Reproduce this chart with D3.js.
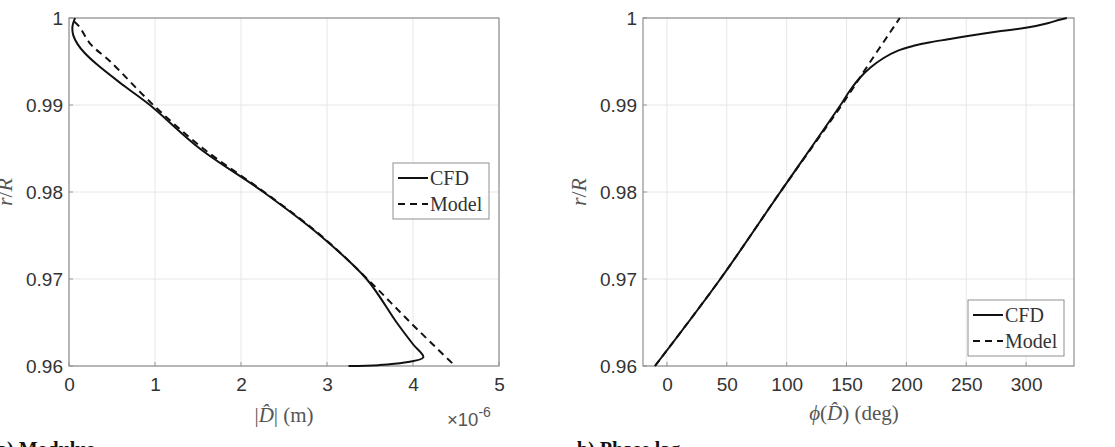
<!DOCTYPE html>
<html>
<head>
<meta charset="utf-8">
<script src="https://cdn.jsdelivr.net/npm/d3@7"></script>
<style>
  body { margin: 0; background: #fff; }
  svg { display: block; }
  .tick text { font-family: "Liberation Sans", Arial, sans-serif; font-size: 19px; fill: #333; }
  .serif { font-family: "Liberation Serif", "DejaVu Serif", serif; }
</style>
</head>
<body>
<svg id="chart" width="1115" height="447"></svg>
<script>
// radial position r/R shared by both panels
const yTicks = [0.96, 0.97, 0.98, 0.99, 1];

// a) modulus, |D| in units of 1e-6 m
const modTicks = [0, 1, 2, 3, 4, 5];
const modCfdX = [0.07, 0.04, 0.05, 0.1, 0.18, 0.32, 0.6, 0.94, 1.52, 2.26, 2.92, 3.46, 3.81, 4.0, 4.12, 3.9, 3.6, 3.25];
const modCfdY = [1.0, 0.999, 0.998, 0.997, 0.996, 0.9947, 0.9925, 0.99, 0.985, 0.98, 0.975, 0.97, 0.965, 0.9625, 0.961, 0.9604, 0.9601, 0.96];
const modModelX = [0.06, 0.12, 0.25, 0.48, 0.98, 1.56, 2.27, 2.93, 3.47, 3.97, 4.49];
const modModelY = [0.9996, 0.999, 0.997, 0.995, 0.99, 0.985, 0.98, 0.975, 0.97, 0.965, 0.96];

// b) phase lag in degrees
const phaseTicks = [0, 50, 100, 150, 200, 250, 300];
const phaseCfdX = [-10, 44.6, 94.7, 145, 153, 161, 170, 181, 193, 206, 220, 235, 250, 279, 301, 318, 328, 334];
const phaseCfdY = [0.96, 0.97, 0.98, 0.99, 0.9917, 0.9931, 0.9943, 0.9954, 0.99625, 0.9968, 0.99722, 0.99755, 0.9979, 0.9985, 0.9989, 0.9994, 0.9998, 1.0];
const phaseModelX = [-10, 44.6, 94.7, 146, 170, 194.5];
const phaseModelY = [0.96, 0.97, 0.98, 0.99, 0.995, 1.0];

const svg = d3.select("#chart");

function drawPanel(opt) {
    const x = d3.scaleLinear().domain(opt.xDomain).range([opt.left, opt.right]);
    const y = d3.scaleLinear().domain([0.96, 1]).range([366, 18]);
    const g = svg.append("g");

    // grid
    g.append("g").selectAll("line")
        .data(opt.xTicks)
        .enter().append("line")
        .attr("x1", d => x(d)).attr("x2", d => x(d))
        .attr("y1", y(0.96)).attr("y2", y(1))
        .attr("stroke", "#e6e6e6");
    g.append("g").selectAll("line")
        .data(yTicks)
        .enter().append("line")
        .attr("x1", opt.left).attr("x2", opt.right)
        .attr("y1", d => y(d)).attr("y2", d => y(d))
        .attr("stroke", "#e6e6e6");

    // axes
    const xAxis = d3.axisBottom(x).tickValues(opt.xTicks).tickSize(0).tickPadding(12)
        .tickFormat(d3.format("d"));
    g.append("g").attr("transform", `translate(0, ${y(0.96)})`).call(xAxis)
        .call(s => s.select(".domain").remove());
    const yAxis = d3.axisLeft(y).tickValues(yTicks).tickSize(0).tickPadding(6)
        .tickFormat(d => d === 1 ? "1" : d3.format(".2f")(d));
    g.append("g").attr("transform", `translate(${opt.left}, 0)`).call(yAxis)
        .call(s => s.select(".domain").remove());

    // inward tick marks
    g.append("g").selectAll("line")
        .data(opt.xTicks)
        .enter().append("line")
        .attr("x1", d => x(d)).attr("x2", d => x(d))
        .attr("y1", y(0.96)).attr("y2", y(0.96) - 4)
        .attr("stroke", "#999");
    g.append("g").selectAll("line")
        .data(yTicks)
        .enter().append("line")
        .attr("x1", opt.left).attr("x2", opt.left + 4)
        .attr("y1", d => y(d)).attr("y2", d => y(d))
        .attr("stroke", "#999");

    // box
    g.append("rect")
        .attr("x", opt.left).attr("y", y(1))
        .attr("width", opt.right - opt.left).attr("height", y(0.96) - y(1))
        .attr("fill", "none").attr("stroke", "#8f8f8f").attr("stroke-width", 1.2);

    // curves
    const clipId = "clip" + opt.left;
    svg.append("clipPath").attr("id", clipId).append("rect")
        .attr("x", opt.left).attr("y", y(1) - 2)
        .attr("width", opt.right - opt.left).attr("height", y(0.96) - y(1) + 4);
    const line = d3.line()
        .x(d => x(d[0])).y(d => y(d[1]))
        .curve(d3.curveCatmullRom.alpha(0.5));
    g.append("path")
        .datum(d3.zip(opt.modelX, opt.modelY))
        .attr("clip-path", `url(#${clipId})`)
        .attr("d", line)
        .attr("fill", "none").attr("stroke", "#111").attr("stroke-width", 2)
        .attr("stroke-dasharray", "7,5");
    g.append("path")
        .datum(d3.zip(opt.cfdX, opt.cfdY))
        .attr("clip-path", `url(#${clipId})`)
        .attr("d", line)
        .attr("fill", "none").attr("stroke", "#111").attr("stroke-width", 2);

    // legend
    const lg = g.append("g").attr("transform", `translate(${opt.legend[0]}, ${opt.legend[1]})`);
    lg.append("rect").attr("width", 96).attr("height", 56)
        .attr("fill", "#fff").attr("stroke", "#8f8f8f");
    lg.append("line").attr("x1", 5).attr("x2", 35).attr("y1", 15).attr("y2", 15)
        .attr("stroke", "#111").attr("stroke-width", 2);
    lg.append("line").attr("x1", 5).attr("x2", 35).attr("y1", 41).attr("y2", 41)
        .attr("stroke", "#111").attr("stroke-width", 2).attr("stroke-dasharray", "7,5");
    lg.append("text").attr("class", "serif").attr("x", 37).attr("y", 22)
        .attr("font-size", 20).attr("fill", "#333").text("CFD");
    lg.append("text").attr("class", "serif").attr("x", 37).attr("y", 48)
        .attr("font-size", 20).attr("fill", "#333").text("Model");

    // y label r/R
    const yl = g.append("text").attr("class", "serif")
        .attr("transform", `translate(${opt.left - 57}, ${y(0.98)}) rotate(-90)`)
        .attr("text-anchor", "middle").attr("font-size", 22).attr("fill", "#555");
    yl.append("tspan").attr("font-style", "italic").text("r");
    yl.append("tspan").text("/");
    yl.append("tspan").attr("font-style", "italic").text("R");

    return { x, y, g };
}

// panel a
drawPanel({
    left: 69, right: 499, xDomain: [0, 5], xTicks: modTicks,
    cfdX: modCfdX, cfdY: modCfdY, modelX: modModelX, modelY: modModelY,
    legend: [393, 163]
});
const xla = svg.append("text").attr("class", "serif")
    .attr("x", 284).attr("y", 422).attr("text-anchor", "middle")
    .attr("font-size", 21).attr("fill", "#555");
xla.append("tspan").text("|");
xla.append("tspan").attr("font-style", "italic").text("D\u0302");
xla.append("tspan").text("|  (m)");
const exp = svg.append("text")
    .attr("x", 447).attr("y", 426)
    .attr("font-family", "Liberation Sans, Arial, sans-serif")
    .attr("font-size", 18.5).attr("fill", "#555");
exp.append("tspan").text("\u00d710");
exp.append("tspan").attr("dy", -9).attr("font-size", 14).text("-6");

svg.append("text").attr("class", "serif")
    .attr("x", -3).attr("y", 456).attr("font-size", 20).attr("font-weight", "bold")
    .attr("fill", "#111").text("a) Modulus");

// panel b
drawPanel({
    left: 643, right: 1074, xDomain: [-20, 340], xTicks: phaseTicks,
    cfdX: phaseCfdX, cfdY: phaseCfdY, modelX: phaseModelX, modelY: phaseModelY,
    legend: [968, 300]
});
const xlb = svg.append("text").attr("class", "serif")
    .attr("x", 854).attr("y", 420).attr("text-anchor", "middle")
    .attr("font-size", 21).attr("fill", "#555");
xlb.append("tspan").attr("font-style", "italic").text("\u03d5");
xlb.append("tspan").text("(");
xlb.append("tspan").attr("font-style", "italic").text("D\u0302");
xlb.append("tspan").text(")  (deg)");

svg.append("text").attr("class", "serif")
    .attr("x", 577).attr("y", 456).attr("font-size", 20).attr("font-weight", "bold")
    .attr("fill", "#111").text("b) Phase lag");
</script>
</body>
</html>
